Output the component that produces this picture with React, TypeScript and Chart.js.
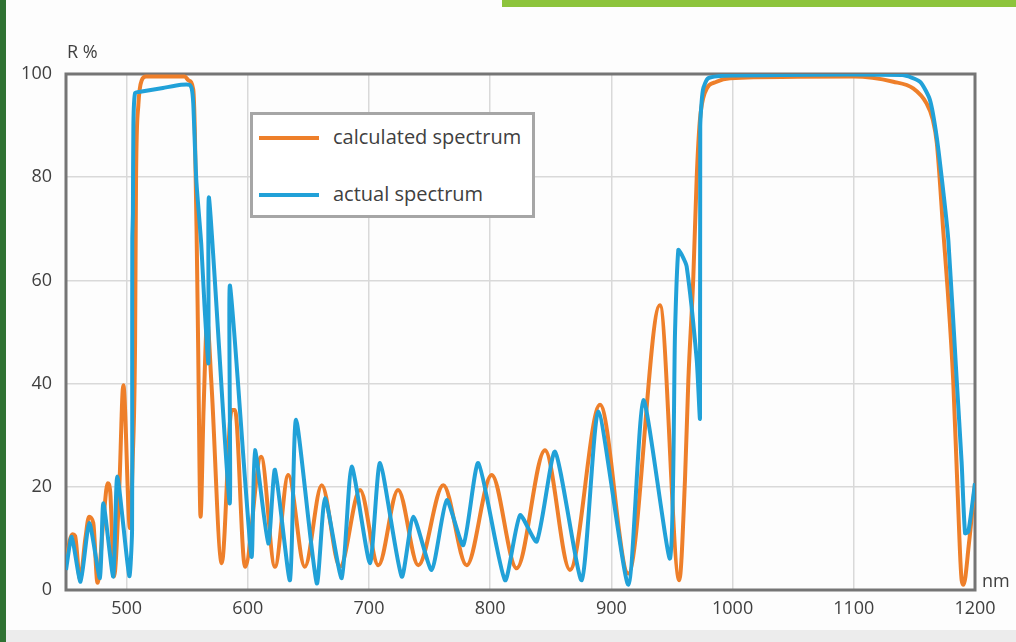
import React, { useEffect, useRef } from "react";
import { Chart, registerables } from "chart.js";

Chart.register(...registerables);

// wavelength (nm) / reflectance (%) of the calculated spectrum
const calcX = [
  450, 453, 455.5, 457.5, 461.5, 466, 469, 472.5, 476, 481, 484.4, 486.5, 489.6, 494, 497.3,
  502.8, 505, 507, 507.8, 509.7, 512.5, 516, 548, 551, 555, 556.4, 557.8, 559, 561, 563.5,
  566.5, 570, 578.5, 586.7, 589.4, 597.7, 611, 622.4, 633.4, 647, 661, 676, 692.6, 707.7,
  724, 740.7, 761.3, 780.6, 801.2, 821.8, 845.2, 865.8, 890.6, 914, 940, 956, 960.7, 963.5,
  967.6, 970.4, 973, 977, 986.8, 998, 1100, 1132.6, 1149, 1160, 1165, 1168.5, 1174, 1177.5,
  1182, 1185.5, 1189, 1190.5, 1195, 1200,
];
const calcY = [
  5, 9.5, 10.8, 10.5, 2, 10, 14.2, 13, 1.4, 14, 20.7, 19, 2.6, 20, 39.7,
  12, 25, 48, 80, 94, 98.8, 99.5, 99.5, 98.8, 97, 88, 68.5, 48, 14.2, 35,
  52, 40, 5.2, 34.9, 34.9, 4.5, 25.8, 4.5, 22.3, 4.5, 20.3, 4.5, 19.4, 4.8,
  19.4, 4.8, 20.3, 4.8, 22.3, 4.2, 27.1, 3.9, 35.9, 3.2, 55.2, 1.9, 21.3, 40.7,
  60.7, 80, 91, 96.3, 98.5, 99.2, 99.5, 98.5, 97.2, 94.3, 91.3, 86.6, 69, 58,
  40.7, 20, 1.9, 1, 9, 20.7,
];

// wavelength (nm) / reflectance (%) of the actual (measured) spectrum
const actX = [
  450, 454.7, 462, 469.2, 478, 480.8, 489, 492.3, 502.2, 504.5, 504.6, 504.7, 505.2, 505.6,
  507, 512.5, 530, 545, 552, 553.7, 555, 557.5, 561.6, 564.3, 567.5, 568, 585, 585.3, 603,
  605.9, 616.9, 622.4, 634.8, 639.8, 656.9, 663.7, 677.5, 685.7, 700.8, 709.1, 727, 736.6,
  751.7, 764.1, 777.8, 790.2, 812.2, 824.6, 838.4, 853.5, 875.5, 889.2, 914, 926.4, 948.4,
  952.5, 955.2, 958, 962.1, 970.4, 973.1, 973.3, 975.5, 980, 1000, 1140, 1154.6, 1162.8,
  1168.4, 1174, 1178, 1184.9, 1189, 1191.8, 1194.5, 1200,
];
const actY = [
  3.9, 10.3, 1.6, 13, 2.3, 16.8, 2.6, 22, 2.7, 11.5, 40, 68, 73, 90,
  96.3, 96.6, 97.3, 97.9, 97.9, 97.2, 94.3, 79.5, 67, 55, 44, 76, 16.8, 59, 6.5,
  27.1, 9, 23.3, 1.9, 33, 1.3, 17.8, 2.3, 23.9, 5.2, 24.6, 2.6, 14.2,
  3.9, 17.4, 8.7, 24.6, 1.9, 14.5, 9.4, 26.8, 1.9, 34.6, 1, 36.8, 6.1,
  50, 65.9, 65, 62.7, 44.6, 33.3, 89.8, 96.9, 99.2, 99.7, 99.8, 98.5, 95,
  87.8, 76.9, 67.8, 40.7, 24.6, 11, 11.3, 20.7,
];

const xTicks = [500, 600, 700, 800, 900, 1000, 1100, 1200];
const yTicks = [0, 20, 40, 60, 80, 100];
const seriesNames = ["calculated spectrum", "actual spectrum"];
const yTitle = "R %";
const xTitle = "nm";

const ORANGE = "#ee7f2a";
const BLUE = "#21a1d8";
const TEXT = "#404040";
const FONT = "'Open Sans', 'DejaVu Sans', sans-serif";

const framePlugin = {
  id: "frame",
  beforeDatasetsDraw(chart: any) {
    const { ctx, chartArea: a } = chart;
    ctx.save();
    ctx.strokeStyle = "#757575";
    ctx.lineWidth = 3;
    ctx.strokeRect(a.left, a.top, a.right - a.left, a.bottom - a.top);
    ctx.restore();
  },
};

export default function App() {
  const ref = useRef<HTMLCanvasElement | null>(null);

  useEffect(() => {
    if (!ref.current) return;
    const chart = new Chart(ref.current, {
      type: "line",
      data: {
        datasets: [
          {
            label: seriesNames[1],
            data: actX.map((x, i) => ({ x, y: actY[i] })),
            borderColor: BLUE,
            backgroundColor: BLUE,
            borderWidth: 4,
            pointRadius: 0,
            tension: 0.2,
            order: 0,
          },
          {
            label: seriesNames[0],
            data: calcX.map((x, i) => ({ x, y: calcY[i] })),
            borderColor: ORANGE,
            backgroundColor: ORANGE,
            borderWidth: 4,
            pointRadius: 0,
            cubicInterpolationMode: "monotone",
            order: 1,
          },
        ],
      },
      options: {
        responsive: false,
        animation: false,
        layout: { padding: { left: 0, right: 41, top: 74, bottom: 0 } },
        plugins: { legend: { display: false }, tooltip: { enabled: false } },
        scales: {
          x: {
            type: "linear",
            min: 450,
            max: 1200,
            afterBuildTicks: (s: any) => {
              s.ticks = xTicks.map((v) => ({ value: v }));
            },
            afterFit: (s: any) => {
              s.height = 52;
            },
            grid: { color: "#d9d9d9", lineWidth: 1.5, drawTicks: false },
            border: { display: false },
            ticks: {
              padding: 8,
              maxRotation: 0,
              autoSkip: false,
              color: TEXT,
              font: { family: FONT, size: 18 },
              callback: (v: any) => String(v),
            },
          },
          y: {
            min: 0,
            max: 100,
            afterBuildTicks: (s: any) => {
              s.ticks = yTicks.map((v) => ({ value: v }));
            },
            afterFit: (s: any) => {
              s.width = 66;
            },
            grid: { color: "#d9d9d9", lineWidth: 1.5, drawTicks: false },
            border: { display: false },
            ticks: {
              padding: 14,
              color: TEXT,
              font: { family: FONT, size: 18 },
              callback: (v: any) => String(v),
            },
          },
        },
      },
      plugins: [framePlugin],
    } as any);
    return () => chart.destroy();
  }, []);

  const legendRow = (color: string, text: string, lineTop: number, textTop: number) => (
    <>
      <div
        style={{
          position: "absolute",
          left: 6,
          top: lineTop,
          width: 60,
          height: 4,
          background: color,
        }}
      />
      <div
        style={{
          position: "absolute",
          left: 80,
          top: textTop,
          fontFamily: FONT,
          fontSize: 20,
          lineHeight: "20px",
          color: TEXT,
          whiteSpace: "nowrap",
        }}
      >
        {text}
      </div>
    </>
  );

  return (
    <div
      style={{
        position: "fixed",
        left: 0,
        top: 0,
        width: 1016,
        height: 642,
        background: "#fdfdfd",
        overflow: "hidden",
      }}
    >
      <div style={{ position: "absolute", left: 0, top: 0, width: 6, height: 642, background: "#2f7233" }} />
      <div style={{ position: "absolute", left: 502, top: 0, width: 514, height: 7, background: "#8dc43c" }} />
      <div style={{ position: "absolute", left: 6, top: 630, width: 1010, height: 12, background: "#ececec" }} />
      <canvas
        ref={ref}
        width={1016}
        height={642}
        style={{ position: "absolute", left: 0, top: 0, width: 1016, height: 642 }}
      />
      <div
        style={{
          position: "absolute",
          left: 67,
          top: 42,
          fontFamily: FONT,
          fontSize: 18,
          lineHeight: "18px",
          color: TEXT,
        }}
      >
        {yTitle}
      </div>
      <div
        style={{
          position: "absolute",
          left: 982,
          top: 571,
          fontFamily: FONT,
          fontSize: 18,
          lineHeight: "18px",
          color: TEXT,
        }}
      >
        {xTitle}
      </div>
      <div
        style={{
          position: "absolute",
          left: 250,
          top: 112,
          width: 285,
          height: 106,
          boxSizing: "border-box",
          border: "3px solid #a6a6a6",
          background: "#ffffff",
        }}
      >
        {legendRow(ORANGE, seriesNames[0], 21, 12)}
        {legendRow(BLUE, seriesNames[1], 78, 69)}
      </div>
    </div>
  );
}
